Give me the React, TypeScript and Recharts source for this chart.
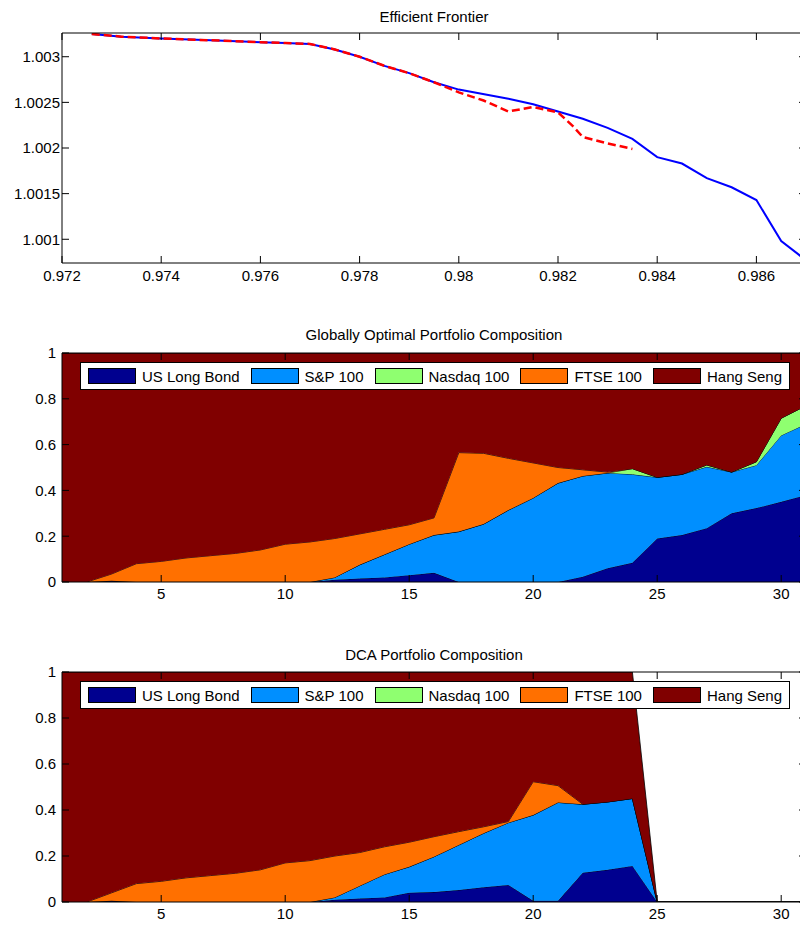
import React from 'react';
import { LineChart, Line, AreaChart, Area, XAxis, YAxis } from 'recharts';

const FONT = '"Liberation Sans", Arial, Helvetica, sans-serif';

// efficient frontier: globally optimal (blue) and DCA (red dashed)
const FRONTIER_X = [0.9726, 0.9732, 0.974, 0.975, 0.976, 0.9765, 0.977, 0.9775, 0.978, 0.9785, 0.979, 0.9795, 0.98, 0.981, 0.9815, 0.982, 0.9825, 0.983, 0.9835, 0.984, 0.9845, 0.985, 0.9855, 0.986, 0.9865, 0.987];
const FRONTIER_Y = [1.00325, 1.00322, 1.0032, 1.00318, 1.00316, 1.00315, 1.00314, 1.00308, 1.003, 1.0029, 1.00282, 1.00272, 1.00264, 1.00254, 1.00248, 1.0024, 1.00232, 1.00222, 1.0021, 1.0019, 1.00183, 1.00167, 1.00157, 1.00143, 1.00098, 1.00077];
const DCA_FRONTIER_X = [0.9726, 0.9732, 0.974, 0.975, 0.976, 0.9765, 0.977, 0.9775, 0.978, 0.9785, 0.979, 0.9795, 0.98, 0.9805, 0.981, 0.9815, 0.982, 0.9823, 0.9825, 0.983, 0.9835];
const DCA_FRONTIER_Y = [1.00325, 1.00322, 1.0032, 1.00318, 1.00316, 1.00315, 1.00314, 1.00308, 1.003, 1.0029, 1.00282, 1.00272, 1.00261, 1.00252, 1.0024, 1.00245, 1.00239, 1.00224, 1.00212, 1.00205, 1.00199];
const FRONTIER_X_TICKS = [0.972, 0.974, 0.976, 0.978, 0.98, 0.982, 0.984, 0.986];
const FRONTIER_Y_TICKS = [1.001, 1.0015, 1.002, 1.0025, 1.003];

// portfolio composition per period
const STEPS = [1, 2, 3, 4, 5, 6, 7, 8, 9, 10, 11, 12, 13, 14, 15, 16, 17, 18, 19, 20, 21, 22, 23, 24, 25, 26, 27, 28, 29, 30, 31];
const STEP_TICKS = [5, 10, 15, 20, 25, 30];
const WEIGHT_TICKS = [0, 0.2, 0.4, 0.6, 0.8, 1];
const ASSETS = ['US Long Bond', 'S&P 100', 'Nasdaq 100', 'FTSE 100', 'Hang Seng'];
const ASSET_KEYS = ['bond', 'sp', 'nasdaq', 'ftse', 'hangseng'];
const ASSET_COLORS = ['#00008F', '#008FFF', '#8FFF70', '#FF7000', '#800000'];

const GLOBAL_BOND = [0, 0, 0.005, 0, 0, 0, 0, 0, 0, 0, 0, 0.01, 0.015, 0.02, 0.03, 0.04, 0, 0, 0, 0, 0, 0.023, 0.06, 0.084, 0.19, 0.205, 0.235, 0.3, 0.323, 0.35, 0.38];
const GLOBAL_SP = [0, 0, 0, 0, 0, 0, 0, 0, 0, 0, 0, 0.01, 0.06, 0.1, 0.135, 0.165, 0.22, 0.253, 0.314, 0.367, 0.432, 0.44, 0.416, 0.386, 0.267, 0.265, 0.268, 0.18, 0.187, 0.29, 0.31];
const GLOBAL_NASDAQ = [0, 0, 0, 0, 0, 0, 0, 0, 0, 0, 0, 0, 0, 0, 0, 0, 0, 0, 0, 0, 0, 0, 0, 0.025, 0, 0, 0.008, 0, 0.015, 0.075, 0.08];
const GLOBAL_FTSE = [0, 0, 0.03, 0.08, 0.09, 0.105, 0.115, 0.125, 0.14, 0.165, 0.175, 0.17, 0.135, 0.11, 0.085, 0.075, 0.345, 0.309, 0.226, 0.153, 0.068, 0.027, 0.004, 0, 0, 0, 0, 0, 0, 0, 0];
const GLOBAL_HANGSENG = [1, 1, 0.965, 0.92, 0.91, 0.895, 0.885, 0.875, 0.86, 0.835, 0.825, 0.81, 0.79, 0.77, 0.75, 0.72, 0.435, 0.438, 0.46, 0.48, 0.5, 0.51, 0.52, 0.505, 0.543, 0.53, 0.489, 0.52, 0.475, 0.285, 0.23];

const DCA_BOND = [0, 0, 0.005, 0, 0, 0, 0, 0, 0, 0, 0, 0.01, 0.015, 0.02, 0.04, 0.043, 0.052, 0.064, 0.074, 0.005, 0.005, 0.127, 0.14, 0.157, 0, 0, 0, 0, 0, 0, 0];
const DCA_SP = [0, 0, 0, 0, 0, 0, 0, 0, 0, 0, 0, 0.01, 0.055, 0.1, 0.113, 0.154, 0.196, 0.235, 0.271, 0.373, 0.428, 0.298, 0.295, 0.293, 0, 0, 0, 0, 0, 0, 0];
const DCA_NASDAQ = [0, 0, 0, 0, 0, 0, 0, 0, 0, 0, 0, 0, 0, 0, 0, 0, 0, 0, 0, 0, 0, 0, 0, 0, 0, 0, 0, 0, 0, 0, 0];
const DCA_FTSE = [0, 0, 0.035, 0.08, 0.09, 0.105, 0.115, 0.125, 0.14, 0.17, 0.18, 0.18, 0.145, 0.12, 0.107, 0.087, 0.058, 0.028, 0.005, 0.145, 0.073, 0, 0, 0, 0, 0, 0, 0, 0, 0, 0];
const DCA_HANGSENG = [1, 1, 0.96, 0.92, 0.91, 0.895, 0.885, 0.875, 0.86, 0.83, 0.82, 0.8, 0.785, 0.76, 0.74, 0.716, 0.694, 0.673, 0.65, 0.477, 0.494, 0.575, 0.565, 0.55, 0, 0, 0, 0, 0, 0, 0];

const toPoints = (xs: number[], ys: number[]) => xs.map((x, i) => ({ x, y: ys[i] }));

const toRows = (series: number[][]) =>
  STEPS.map((t, i) => {
    const row: Record<string, number> = { t };
    ASSET_KEYS.forEach((k, j) => { row[k] = series[j][i]; });
    return row;
  });

const TICK_LEN = 7; // matlab style inward ticks

// ticks drawn by hand so they point into the plot like matlab does
const bottomTick = (margin: number) => (props: any) => {
  const { x, y, payload } = props;
  const axisY = y - margin;
  return (
    <g>
      <line x1={x} x2={x} y1={axisY} y2={axisY - TICK_LEN} stroke="#000" />
      <text x={x} y={y} dy="0.71em" textAnchor="middle" fontSize={15} fill="#000" fontFamily={FONT}>{String(payload.value)}</text>
    </g>
  );
};

const leftTick = (margin: number) => (props: any) => {
  const { x, y, payload } = props;
  const axisX = x + margin;
  return (
    <g>
      <line x1={axisX} x2={axisX + TICK_LEN} y1={y} y2={y} stroke="#000" />
      <text x={x} y={y} dy="0.355em" textAnchor="end" fontSize={15} fill="#000" fontFamily={FONT}>{String(payload.value)}</text>
    </g>
  );
};

const topTick = (props: any) => (
  <line x1={props.x} x2={props.x} y1={props.y} y2={props.y + TICK_LEN} stroke="#000" />
);

const rightTick = (props: any) => (
  <line x1={props.x} x2={props.x - TICK_LEN} y1={props.y} y2={props.y} stroke="#000" />
);

function Title({ text, top }: { text: string; top: number }) {
  return (
    <div style={{ position: 'absolute', left: 62, top, width: 744, textAlign: 'center', fontSize: 15, lineHeight: '18px', color: '#000' }}>
      {text}
    </div>
  );
}

function FrontierChart() {
  const optimal = toPoints(FRONTIER_X, FRONTIER_Y);
  const dca = toPoints(DCA_FRONTIER_X, DCA_FRONTIER_Y);
  const xDomain = [0.972, 0.987];
  const yDomain = [1.00074, 1.00326];
  return (
    <div style={{ position: 'absolute', left: 0, top: 0, width: 820, height: 300 }}>
      <Title text="Efficient Frontier" top={8} />
      <LineChart width={820} height={300} margin={{ top: 32, right: 13, bottom: 7, left: 0 }}>
        <XAxis xAxisId="b" type="number" dataKey="x" domain={xDomain} allowDataOverflow ticks={FRONTIER_X_TICKS} interval={0}
          height={30} tickLine={false} tickSize={0} tickMargin={7} tick={bottomTick(7)} stroke="#000" />
        <XAxis xAxisId="t" orientation="top" type="number" dataKey="x" domain={xDomain} allowDataOverflow ticks={FRONTIER_X_TICKS}
          interval={0} height={1} tickLine={false} tickSize={0} tickMargin={0} tick={topTick} stroke="#000" />
        <YAxis yAxisId="l" type="number" domain={yDomain} allowDataOverflow ticks={FRONTIER_Y_TICKS} interval={0}
          width={62} tickLine={false} tickSize={0} tickMargin={2} tick={leftTick(2)} stroke="#000" />
        <YAxis yAxisId="r" orientation="right" type="number" domain={yDomain} allowDataOverflow ticks={FRONTIER_Y_TICKS}
          interval={0} width={1} tickLine={false} tickSize={0} tickMargin={0} tick={rightTick} stroke="#000" />
        <Line xAxisId="b" yAxisId="l" data={optimal} dataKey="y" type="linear" stroke="#0000FF" strokeWidth={2}
          dot={false} activeDot={false} isAnimationActive={false} />
        <Line xAxisId="b" yAxisId="l" data={dca} dataKey="y" type="linear" stroke="#FF0000" strokeWidth={2.5}
          strokeDasharray="8 4" dot={false} activeDot={false} isAnimationActive={false} />
      </LineChart>
    </div>
  );
}

function CompositionChart({ title, series, top, height, plotTop, axisHeight }: {
  title: string; series: number[][]; top: number; height: number; plotTop: number; axisHeight: number;
}) {
  const rows = toRows(series);
  return (
    <div style={{ position: 'absolute', left: 0, top, width: 820, height }}>
      <Title text={title} top={6} />
      <AreaChart width={820} height={height} data={rows} margin={{ top: plotTop - 1, right: 13, bottom: 0, left: 0 }}>
        <XAxis xAxisId="b" type="number" dataKey="t" domain={[1, 31]} allowDataOverflow ticks={STEP_TICKS} interval={0}
          height={axisHeight} tickLine={false} tickSize={0} tickMargin={6} tick={bottomTick(6)} stroke="#000" />
        <XAxis xAxisId="t" orientation="top" type="number" dataKey="t" domain={[1, 31]} allowDataOverflow ticks={STEP_TICKS}
          interval={0} height={1} tickLine={false} tickSize={0} tickMargin={0} tick={topTick} stroke="#000" />
        <YAxis yAxisId="l" type="number" domain={[0, 1]} allowDataOverflow ticks={WEIGHT_TICKS} interval={0}
          width={62} tickLine={false} tickSize={0} tickMargin={6} tick={leftTick(6)} stroke="#000" />
        <YAxis yAxisId="r" orientation="right" type="number" domain={[0, 1]} allowDataOverflow ticks={WEIGHT_TICKS}
          interval={0} width={1} tickLine={false} tickSize={0} tickMargin={0} tick={rightTick} stroke="#000" />
        {ASSET_KEYS.map((k, i) => (
          <Area key={k} xAxisId="b" yAxisId="l" dataKey={k} name={ASSETS[i]} stackId="w" type="linear"
            fill={ASSET_COLORS[i]} fillOpacity={1} stroke="#000" strokeWidth={0.8}
            dot={false} activeDot={false} isAnimationActive={false} />
        ))}
      </AreaChart>
      <div style={{
        position: 'absolute', left: 80, top: plotTop + 9, width: 710, height: 28, boxSizing: 'border-box',
        border: '1px solid #000', background: '#fff', display: 'flex', alignItems: 'center', paddingLeft: 7, gap: 11,
      }}>
        {ASSETS.map((name, i) => (
          <div key={name} style={{ display: 'flex', alignItems: 'center', gap: 6 }}>
            <span style={{ display: 'inline-block', width: 48, height: 16, boxSizing: 'border-box', border: '1px solid #000', background: ASSET_COLORS[i] }} />
            <span style={{ fontSize: 15, color: '#000', whiteSpace: 'nowrap' }}>{name}</span>
          </div>
        ))}
      </div>
    </div>
  );
}

export default function App() {
  return (
    <div style={{ position: 'absolute', left: 0, top: 0, width: 800, height: 927, overflow: 'hidden', background: '#fff', fontFamily: FONT }}>
      <FrontierChart />
      <CompositionChart
        title="Globally Optimal Portfolio Composition"
        series={[GLOBAL_BOND, GLOBAL_SP, GLOBAL_NASDAQ, GLOBAL_FTSE, GLOBAL_HANGSENG]}
        top={320} height={290} plotTop={33} axisHeight={28}
      />
      <CompositionChart
        title="DCA Portfolio Composition"
        series={[DCA_BOND, DCA_SP, DCA_NASDAQ, DCA_FTSE, DCA_HANGSENG]}
        top={640} height={287} plotTop={32} axisHeight={25}
      />
    </div>
  );
}
